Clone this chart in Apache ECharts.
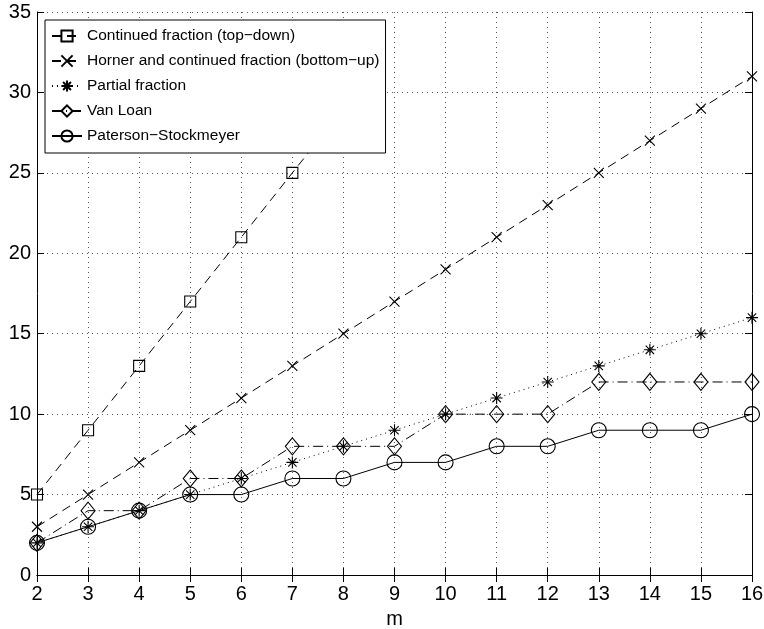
<!DOCTYPE html>
<html>
<head>
<meta charset="utf-8">
<script src="https://cdn.jsdelivr.net/npm/echarts@6/dist/echarts.min.js"></script>
<style>
  html, body { margin: 0; padding: 0; background: #fff; }
  #chart { width: 764px; height: 629px; }
</style>
</head>
<body>
<div id="chart"></div>
<script>
// m values
var mValues = [2, 3, 4, 5, 6, 7, 8, 9, 10, 11, 12, 13, 14, 15, 16]

// cost per method
var contTopDown = [5, 9, 13, 17, 21, 25, 29]
var hornerBottomUp = [3, 5, 7, 9, 11, 13, 15, 17, 19, 21, 23, 25, 27, 29, 31]
var partialFrac = [2, 3, 4, 5, 6, 7, 8, 9, 10, 11, 12, 13, 14, 15, 16]
var vanLoan = [2, 4, 4, 6, 6, 8, 8, 8, 10, 10, 10, 12, 12, 12, 12]
var patersonStock = [2, 3, 4, 5, 5, 6, 6, 7, 7, 8, 8, 9, 9, 9, 10]

var seriesNames = [
  'Continued fraction (top\u2212down)',
  'Horner and continued fraction (bottom\u2212up)',
  'Partial fraction',
  'Van Loan',
  'Paterson\u2212Stockmeyer'
]

var FONT = '"Liberation Sans", Arial, Helvetica, sans-serif'

// markers
var crossPath = 'path://M0,0L10,10M10,0L0,10'
var starPath = 'path://M5,0L5,10M0,5L10,5M1.5,1.5L8.5,8.5M8.5,1.5L1.5,8.5'

function pairs(ys) {
  var out = []
  for (var i = 0; i < ys.length; i++) {
    out.push([mValues[i], ys[i]])
  }
  return out
}

function makeSeries(name, ys, symbol, size, dash) {
  return {
    name: name,
    type: 'line',
    data: pairs(ys),
    symbol: symbol,
    symbolSize: size,
    showSymbol: true,
    clip: true,
    color: '#000',
    lineStyle: { color: '#000', width: 1, type: dash },
    itemStyle: { color: 'rgba(0,0,0,0)', borderColor: '#000', borderWidth: 1.1 },
    emphasis: { disabled: true },
    animation: false
  }
}

var chart = echarts.init(document.getElementById('chart'))

chart.setOption({
  backgroundColor: '#fff',
  animation: false,
  grid: { left: 37, right: 12, top: 12, bottom: 54, outerBoundsMode: 'none', containLabel: false },
  legend: {
    orient: 'vertical',
    left: 45,
    top: 20,
    backgroundColor: '#fff',
    borderColor: '#000',
    borderWidth: 1,
    borderRadius: 0,
    padding: [8, 6, 9, 6],
    itemWidth: 30,
    itemHeight: 14,
    itemGap: 9,
    textStyle: { fontFamily: FONT, fontSize: 15.5, color: '#000' },
    data: seriesNames
  },
  xAxis: [{
    type: 'value',
    min: 2,
    max: 16,
    interval: 1,
    name: 'm',
    nameLocation: 'middle',
    nameGap: 34,
    nameTextStyle: { fontFamily: FONT, fontSize: 20, color: '#000' },
    axisLine: { lineStyle: { color: '#000', width: 1 } },
    axisTick: { inside: true, length: 7, lineStyle: { color: '#000' } },
    axisLabel: { fontFamily: FONT, fontSize: 20, color: '#000', margin: 9 },
    splitLine: { show: true, lineStyle: { color: '#555', type: [1, 4], width: 1 } }
  }, {
    type: 'value',
    position: 'top',
    min: 2,
    max: 16,
    interval: 1,
    axisLine: { show: true, lineStyle: { color: '#000', width: 1 } },
    axisTick: { inside: true, length: 7, lineStyle: { color: '#000' } },
    axisLabel: { show: false },
    splitLine: { show: false }
  }],
  yAxis: [{
    type: 'value',
    min: 0,
    max: 35,
    interval: 5,
    axisLine: { show: true, lineStyle: { color: '#000', width: 1 } },
    axisTick: { show: true, inside: true, length: 7, lineStyle: { color: '#000' } },
    axisLabel: { fontFamily: FONT, fontSize: 20, color: '#000', margin: 6 },
    splitLine: { show: true, lineStyle: { color: '#555', type: [1, 4], width: 1 } }
  }, {
    type: 'value',
    position: 'right',
    min: 0,
    max: 35,
    interval: 5,
    axisLine: { show: true, lineStyle: { color: '#000', width: 1 } },
    axisTick: { show: true, inside: true, length: 7, lineStyle: { color: '#000' } },
    axisLabel: { show: false },
    splitLine: { show: false }
  }],
  series: [
    makeSeries(seriesNames[0], contTopDown, 'rect', 11, [9, 6]),
    makeSeries(seriesNames[1], hornerBottomUp, crossPath, 10, [9, 6]),
    makeSeries(seriesNames[2], partialFrac, starPath, 12, [1, 4]),
    makeSeries(seriesNames[3], vanLoan, 'diamond', [14, 17], [10, 4, 1, 4]),
    makeSeries(seriesNames[4], patersonStock, 'circle', 15, 'solid')
  ]
})
</script>
</body>
</html>
